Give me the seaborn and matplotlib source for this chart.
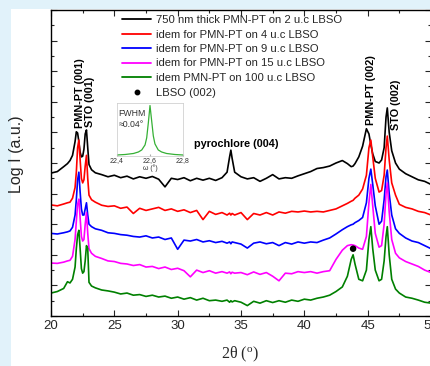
import matplotlib
matplotlib.use("Agg")
import matplotlib.pyplot as plt
import seaborn as sns
import pandas as pd
from matplotlib.lines import Line2D
from matplotlib.patches import Rectangle
from matplotlib.ticker import MultipleLocator

# ---------------- data (arbitrary log units) ----------------
two_theta = [20.0, 20.5, 21.0, 21.3, 21.5, 21.7, 21.9,
             22.0, 22.1, 22.2, 22.3, 22.4, 22.5, 22.6, 22.7, 22.8, 22.9, 23.0,
             23.2, 23.5, 24.0, 24.5, 25.0, 25.5, 26.0, 26.5, 27.0, 27.5, 28.0, 28.5,
             29.0, 29.5, 30.0, 30.5, 31.0, 31.5, 32.0, 32.5, 33.0, 33.5,
             33.9, 34.1, 34.2, 34.3, 34.5,
             35.0, 35.5, 36.0, 36.5, 37.0, 37.5, 38.0, 38.5, 39.0, 39.5, 40.0, 40.5,
             41.0, 41.5, 42.0, 42.5,
             43.0, 43.4, 43.7, 43.85, 44.0, 44.3, 44.6, 44.9,
             45.1, 45.25, 45.4, 45.6, 45.9, 46.1, 46.3, 46.45, 46.55, 46.7, 46.9,
             47.2, 47.5, 48.0, 48.5, 49.0, 49.5, 50.0]

i_2uc = [4.67, 4.72, 4.88, 4.98, 5.08, 5.25, 5.70,
         6.02, 5.98, 5.70, 5.35, 5.20, 5.22, 5.45, 5.95, 6.08, 5.50, 4.95,
         4.78, 4.68, 4.62, 4.55, 4.60, 4.52, 4.57, 4.48, 4.55, 4.50, 4.56, 4.47,
         4.22, 4.50, 4.46, 4.52, 4.42, 4.50, 4.44, 4.50, 4.43, 4.52,
         4.70, 5.20, 5.42, 5.15, 4.70,
         4.55, 4.48, 4.52, 4.40, 4.50, 4.62, 4.48, 4.52, 4.50, 4.58, 4.65, 4.72,
         4.82, 4.85, 4.90, 5.00,
         5.08, 4.98, 4.88, 4.90, 4.98, 5.20, 5.55, 6.12,
         5.95, 5.60, 5.30, 5.05, 5.00, 5.10, 5.50, 6.50, 6.80, 6.00, 5.40,
         5.00, 4.80, 4.65, 4.55, 4.45, 4.40, 4.30]

i_4uc = [3.63, 3.60, 3.66, 3.70, 3.72, 3.85, 4.20,
         4.70, 5.50, 5.75, 5.10, 4.50, 4.35, 4.45, 4.90, 5.25, 4.50, 3.95,
         3.80, 3.72, 3.62, 3.58, 3.60, 3.52, 3.56, 3.35, 3.52, 3.45, 3.50, 3.55,
         3.45, 3.50, 3.42, 3.47, 3.38, 3.45, 3.15, 3.42, 3.32, 3.38,
         3.30, 3.36, 3.30, 3.35, 3.30,
         3.38, 3.15, 3.35, 3.30, 3.38, 3.30, 3.40, 3.36, 3.42, 3.40, 3.43, 3.40,
         3.42, 3.40, 3.45, 3.50,
         3.60, 3.68, 3.75, 3.78, 3.85, 3.95, 4.15, 4.60,
         5.50, 5.75, 5.20, 4.50, 4.05, 4.10, 4.60, 5.50, 5.88, 5.10, 4.35,
         3.95, 3.65, 3.55, 3.50, 3.42, 3.38, 3.30]

i_9uc = [2.70, 2.68, 2.72, 2.75, 2.78, 2.90, 3.30,
         3.80, 4.45, 4.70, 4.05, 3.50, 3.30, 3.30, 3.50, 3.70, 3.30, 3.00,
         2.92, 2.85, 2.80, 2.72, 2.70, 2.66, 2.64, 2.60, 2.58, 2.62, 2.55, 2.58,
         2.50, 2.55, 2.18, 2.48, 2.45, 2.50, 2.42, 2.46, 2.40, 2.44,
         2.38, 2.42, 2.36, 2.42, 2.40,
         2.35, 2.22, 2.38, 2.42, 2.36, 2.40, 2.30, 2.40, 2.35, 2.42, 2.38, 2.42,
         2.40, 2.48, 2.55, 2.68,
         2.82, 2.92, 2.98, 3.00, 3.05, 3.12, 3.22, 3.70,
         4.50, 4.80, 4.30, 3.60, 3.00, 3.10, 3.80, 4.55, 4.77, 4.00, 3.30,
         2.85, 2.70, 2.55, 2.45, 2.40, 2.30, 2.20]

i_15uc = [1.73, 1.72, 1.76, 1.80, 1.82, 1.95, 2.50,
          3.10, 3.65, 3.82, 3.20, 2.60, 2.45, 2.50, 3.00, 3.38, 2.70, 2.20,
          2.05, 1.95, 1.88, 1.80, 1.78, 1.72, 1.70, 1.65, 1.68, 1.60, 1.62, 1.55,
          1.60, 1.52, 1.56, 1.48, 1.28, 1.50, 1.42, 1.48, 1.40, 1.45,
          1.40, 1.44, 1.38, 1.43, 1.40,
          1.42, 1.35, 1.44, 1.36, 1.42, 1.30, 1.15, 1.40, 1.38, 1.45, 1.42, 1.45,
          1.40, 1.45, 1.48, 1.85,
          2.15, 2.30, 2.33, 2.32, 2.30, 2.22, 2.18, 2.60,
          3.70, 4.30, 3.60, 2.70, 2.25, 2.30, 3.00, 4.00, 4.35, 3.40, 2.50,
          2.05, 1.90, 1.78, 1.70, 1.62, 1.50, 1.42]

i_100uc = [0.75, 0.80, 0.90, 1.12, 1.08, 1.20, 1.60,
           2.20, 2.65, 2.80, 2.20, 1.55, 1.40, 1.45, 1.80, 2.30, 2.20, 1.10,
           0.98, 0.92, 0.85, 0.82, 0.78, 0.72, 0.75, 0.68, 0.70, 0.64, 0.68, 0.62,
           0.65, 0.58, 0.62, 0.55, 0.60, 0.52, 0.58, 0.50, 0.52, 0.48,
           0.52, 0.45, 0.50, 0.46, 0.50,
           0.45, 0.34, 0.48, 0.42, 0.50, 0.44, 0.50, 0.45, 0.52, 0.48, 0.55, 0.52,
           0.58, 0.62, 0.68, 0.80,
           0.95, 1.30, 1.85, 2.00, 1.70, 1.20, 1.15, 1.50,
           2.50, 2.92, 2.20, 1.50, 1.15, 1.20, 1.80, 2.60, 2.92, 2.00, 1.20,
           0.88, 0.75, 0.62, 0.58, 0.52, 0.45, 0.42]

series_labels = ["750 nm thick PMN-PT on 2 u.c LBSO",
                 "idem for PMN-PT on 4 u.c LBSO",
                 "idem for PMN-PT on 9 u.c LBSO",
                 "idem for PMN-PT on 15 u.c LBSO",
                 "idem PMN-PT on 100 u.c LBSO"]
series_colors = ["#000000", "#ff0000", "#0000ff", "#ff00ff", "#008000"]

lbso_x = [43.85]
lbso_y = [2.2]

# inset: rocking curve
omega = [22.40, 22.45, 22.50, 22.53, 22.55, 22.57, 22.58, 22.59, 22.60,
         22.61, 22.62, 22.63, 22.65, 22.67, 22.70, 22.75, 22.80]
rock = [0.02, 0.03, 0.05, 0.08, 0.12, 0.22, 0.36, 0.66, 1.00,
        0.70, 0.40, 0.24, 0.12, 0.08, 0.05, 0.03, 0.02]

annotations = [("PMN-PT (001)", 22.3, 6.15, 90),
               ("STO (001)", 23.1, 6.18, 90),
               ("pyrochlore (004)", 34.65, 5.62, 0),
               ("PMN-PT (002)", 45.25, 6.24, 90),
               ("STO (002)", 47.2, 6.08, 90)]

# ---------------- plotting ----------------
sns.set_style("ticks")
plt.rcParams['font.family'] = ['Liberation Sans', 'DejaVu Sans']
plt.rcParams['mathtext.fontset'] = 'custom'
plt.rcParams['mathtext.rm'] = 'Liberation Serif'

W, H = 430, 366
fig = plt.figure(figsize=(W / 100, H / 100), dpi=100, facecolor='#e1f2fa')
fig.patches.append(Rectangle((11 / W, 0), 1, 1 - 9 / H, transform=fig.transFigure,
                             facecolor='white', edgecolor='none', zorder=-10))

ax = fig.add_axes([51 / W, 50 / H, 380 / W, 306 / H])

frames = []
for lab, ys in zip(series_labels, [i_2uc, i_4uc, i_9uc, i_15uc, i_100uc]):
    frames.append(pd.DataFrame({"two_theta": two_theta, "I": ys, "sample": lab}))
df = pd.concat(frames, ignore_index=True)

sns.lineplot(data=df, x="two_theta", y="I", hue="sample", hue_order=series_labels,
             palette=series_colors, estimator=None, sort=False, lw=1.2,
             legend=False, ax=ax)
sns.scatterplot(x=lbso_x, y=lbso_y, color='black', s=22, edgecolor='none', ax=ax, zorder=5)

ax.set_xlim(20, 50)
ax.set_ylim(0, 10)
ax.xaxis.set_major_locator(MultipleLocator(5))
ax.xaxis.set_minor_locator(MultipleLocator(2.5))
ax.yaxis.set_major_locator(MultipleLocator(1))
ax.yaxis.set_minor_locator(MultipleLocator(0.5))
ax.tick_params(which='both', direction='in', top=True, right=True, width=0.8,
               labelleft=False, labelsize=9.5, pad=3)
ax.tick_params(which='major', length=4)
ax.tick_params(which='minor', length=2.2)
for sp in ax.spines.values():
    sp.set_linewidth(1.0)
    sp.set_color('black')

ax.set_xlabel(r"2θ ($\mathregular{^o}$)", fontsize=11.5, family='Liberation Serif')
ax.set_ylabel("Log I (a.u.)", fontsize=11.5)
ax.xaxis.set_label_coords((240 - 51) / 380, -(345 - 316) / 306)
ax.yaxis.set_label_coords(-(51 - 24) / 380, 0.5 + (163 - 154) / 306)

for txt, x, y, rot in annotations:
    ax.text(x, y, txt, rotation=rot, ha='center', va='bottom' if rot else 'center',
            fontsize=7.8, fontweight='bold', color='black')

handles = [Line2D([], [], color=c, lw=1.3) for c in series_colors]
handles.append(Line2D([], [], color='black', marker='o', ls='none', markersize=3.2))
leg_labels = series_labels + ["LBSO (002)"]
ax.legend(handles, leg_labels, loc='upper left', bbox_to_anchor=(122 / W, 1 - 15 / H),
          bbox_transform=fig.transFigure, frameon=False, fontsize=8.1,
          handlelength=2.6, handletextpad=0.45, labelspacing=0.4,
          borderpad=0, borderaxespad=0, numpoints=1)

# inset
axi = fig.add_axes([117 / W, (H - 156) / H, 66 / W, 53 / H])
sns.lineplot(x=omega, y=rock, color='#35b035', lw=0.9, ax=axi)
axi.set_xlim(22.4, 22.8)
axi.set_ylim(0, 1.05)
axi.set_xticks([22.4, 22.6, 22.8])
axi.set_xticklabels(["22,4", "22,6", "22,8"])
axi.set_yticks([])
axi.tick_params(axis='x', direction='in', length=1.5, labelsize=5, pad=1.0,
                color='#aaaaaa', labelcolor='#333333')
for sp in axi.spines.values():
    sp.set_linewidth(0.5)
    sp.set_color('#c8c8c8')
axi.set_xlabel("ω (°)", fontsize=5, labelpad=0.3, color='#333333')
axi.set_ylabel("")
axi.text(0.02, 0.76, "FWHM", transform=axi.transAxes, fontsize=6.3, color='#333333')
axi.text(0.02, 0.54, "≈0.04°", transform=axi.transAxes, fontsize=6.3, color='#333333')

fig.savefig("out.png", dpi=100, facecolor=fig.get_facecolor())
